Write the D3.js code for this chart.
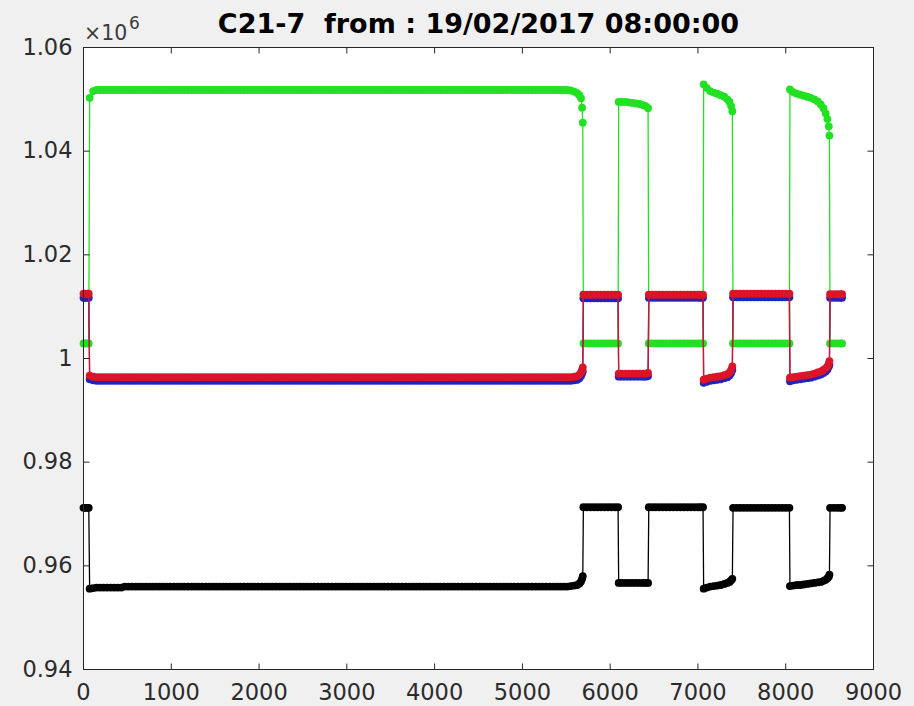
<!DOCTYPE html>
<html>
<head>
<meta charset="utf-8">
<style>
  body { margin: 0; background: #f0f0f0; }
  svg { display: block; }
  .axis text { font-family: "DejaVu Sans", sans-serif; font-size: 22.5px; fill: #2b2b2b; }
  .axis line { stroke: #262626; }
</style>
</head>
<body>
<script src="https://d3js.org/d3.v7.min.js"></script>
<script>
// sample index (x) shared by the four series
var sampleIdx = [
  0, 20, 40, 60,
  70, 110,
  150, 190, 230, 270, 310, 350, 390, 430, 470, 510, 550, 590, 630, 670, 710,
  750, 790, 830, 870, 910, 950, 990, 1030, 1070, 1110, 1150, 1190, 1230, 1270, 1310,
  1350, 1390, 1430, 1470, 1510, 1550, 1590, 1630, 1670, 1710, 1750, 1790, 1830, 1870, 1910,
  1950, 1990, 2030, 2070, 2110, 2150, 2190, 2230, 2270, 2310, 2350, 2390, 2430, 2470, 2510,
  2550, 2590, 2630, 2670, 2710, 2750, 2790, 2830, 2870, 2910, 2950, 2990, 3030, 3070, 3110,
  3150, 3190, 3230, 3270, 3310, 3350, 3390, 3430, 3470, 3510, 3550, 3590, 3630, 3670, 3710,
  3750, 3790, 3830, 3870, 3910, 3950, 3990, 4030, 4070, 4110, 4150, 4190, 4230, 4270, 4310,
  4350, 4390, 4430, 4470, 4510, 4550, 4590, 4630, 4670, 4710, 4750, 4790, 4830, 4870, 4910,
  4950, 4990, 5030, 5070, 5110, 5150, 5190, 5230, 5270, 5310, 5350, 5390, 5430, 5470, 5510,
  5550, 5590, 5625, 5650, 5668, 5680, 5688,
  5695, 5735, 5775, 5815, 5855, 5895, 5935, 5975, 6015, 6055, 6090,
  6097, 6135, 6175, 6215, 6255, 6295, 6335, 6375, 6405, 6432,
  6440, 6480, 6520, 6560, 6600, 6640, 6680, 6720, 6760, 6800, 6840, 6880, 6920, 6960, 7000, 7030, 7058,
  7065, 7100, 7140, 7180, 7220, 7260, 7300, 7335, 7360, 7378, 7392,
  7400, 7440, 7480, 7520, 7560, 7600, 7640, 7680, 7720, 7760, 7800, 7840, 7880, 7920, 7960, 8000, 8042,
  8048, 8085, 8125, 8165, 8205, 8245, 8285, 8325, 8365, 8400, 8430, 8455, 8475, 8490, 8498,
  8505, 8545, 8585, 8620, 8642
];

var greenVals = [
  1002900, 1002900, 1002900, 1002900,
  1050300, 1051600,
  1051800, 1051800, 1051800, 1051800, 1051800, 1051800, 1051800, 1051800, 1051800, 1051800, 1051800, 1051800, 1051800, 1051800, 1051800,
  1051800, 1051800, 1051800, 1051800, 1051800, 1051800, 1051800, 1051800, 1051800, 1051800, 1051800, 1051800, 1051800, 1051800, 1051800,
  1051800, 1051800, 1051800, 1051800, 1051800, 1051800, 1051800, 1051800, 1051800, 1051800, 1051800, 1051800, 1051800, 1051800, 1051800,
  1051800, 1051800, 1051800, 1051800, 1051800, 1051800, 1051800, 1051800, 1051800, 1051800, 1051800, 1051800, 1051800, 1051800, 1051800,
  1051800, 1051800, 1051800, 1051800, 1051800, 1051800, 1051800, 1051800, 1051800, 1051800, 1051800, 1051800, 1051800, 1051800, 1051800,
  1051800, 1051800, 1051800, 1051800, 1051800, 1051800, 1051800, 1051800, 1051800, 1051800, 1051800, 1051800, 1051800, 1051800, 1051800,
  1051800, 1051800, 1051800, 1051800, 1051800, 1051800, 1051800, 1051800, 1051800, 1051800, 1051800, 1051800, 1051800, 1051800, 1051800,
  1051800, 1051800, 1051800, 1051800, 1051800, 1051800, 1051800, 1051800, 1051800, 1051800, 1051800, 1051800, 1051800, 1051800, 1051800,
  1051800, 1051800, 1051800, 1051800, 1051800, 1051800, 1051800, 1051800, 1051800, 1051800, 1051800, 1051800, 1051800, 1051800, 1051800,
  1051700, 1051500, 1051200, 1050800, 1050200, 1048400, 1045500,
  1002900, 1002900, 1002900, 1002900, 1002900, 1002900, 1002900, 1002900, 1002900, 1002900, 1002900,
  1049500, 1049500, 1049500, 1049400, 1049300, 1049200, 1049100, 1048900, 1048700, 1048300,
  1002900, 1002900, 1002900, 1002900, 1002900, 1002900, 1002900, 1002900, 1002900, 1002900, 1002900, 1002900, 1002900, 1002900, 1002900, 1002900, 1002900,
  1052900, 1052200, 1051600, 1051300, 1051100, 1050800, 1050500, 1050000, 1049500, 1048700, 1047700,
  1002900, 1002900, 1002900, 1002900, 1002900, 1002900, 1002900, 1002900, 1002900, 1002900, 1002900, 1002900, 1002900, 1002900, 1002900, 1002900, 1002900,
  1051900, 1051400, 1051100, 1050900, 1050700, 1050500, 1050300, 1050000, 1049600, 1049000, 1048300, 1047300, 1046200, 1044800, 1043000,
  1002900, 1002900, 1002900, 1002900, 1002900
];

var redVals = [
  1012500, 1012500, 1012500, 1012500,
  996700, 996500,
  996400, 996400, 996400, 996400, 996400, 996400, 996400, 996400, 996400, 996400, 996400, 996400, 996400, 996400, 996400,
  996400, 996400, 996400, 996400, 996400, 996400, 996400, 996400, 996400, 996400, 996400, 996400, 996400, 996400, 996400,
  996400, 996400, 996400, 996400, 996400, 996400, 996400, 996400, 996400, 996400, 996400, 996400, 996400, 996400, 996400,
  996400, 996400, 996400, 996400, 996400, 996400, 996400, 996400, 996400, 996400, 996400, 996400, 996400, 996400, 996400,
  996400, 996400, 996400, 996400, 996400, 996400, 996400, 996400, 996400, 996400, 996400, 996400, 996400, 996400, 996400,
  996400, 996400, 996400, 996400, 996400, 996400, 996400, 996400, 996400, 996400, 996400, 996400, 996400, 996400, 996400,
  996400, 996400, 996400, 996400, 996400, 996400, 996400, 996400, 996400, 996400, 996400, 996400, 996400, 996400, 996400,
  996400, 996400, 996400, 996400, 996400, 996400, 996400, 996400, 996400, 996400, 996400, 996400, 996400, 996400, 996400,
  996400, 996400, 996400, 996400, 996400, 996400, 996400, 996400, 996400, 996400, 996400, 996400, 996400, 996400, 996400,
  996400, 996500, 996600, 996900, 997300, 997800, 998300,
  1012300, 1012300, 1012300, 1012300, 1012300, 1012300, 1012300, 1012300, 1012300, 1012300, 1012300,
  997100, 997100, 997100, 997100, 997100, 997100, 997100, 997100, 997100, 997200,
  1012300, 1012300, 1012300, 1012300, 1012300, 1012300, 1012300, 1012300, 1012300, 1012300, 1012300, 1012300, 1012300, 1012300, 1012300, 1012300, 1012300,
  995900, 996100, 996300, 996400, 996500, 996600, 996800, 997000, 997300, 997800, 998500,
  1012500, 1012500, 1012500, 1012500, 1012500, 1012500, 1012500, 1012500, 1012500, 1012500, 1012500, 1012500, 1012500, 1012500, 1012500, 1012500, 1012500,
  996300, 996400, 996500, 996600, 996700, 996800, 996900, 997100, 997300, 997500, 997800, 998100, 998500, 999000, 999500,
  1012400, 1012400, 1012400, 1012400, 1012400
];

var blueVals = [
  1011700, 1011700, 1011700, 1011700,
  996000, 995800,
  995700, 995700, 995700, 995700, 995700, 995700, 995700, 995700, 995700, 995700, 995700, 995700, 995700, 995700, 995700,
  995700, 995700, 995700, 995700, 995700, 995700, 995700, 995700, 995700, 995700, 995700, 995700, 995700, 995700, 995700,
  995700, 995700, 995700, 995700, 995700, 995700, 995700, 995700, 995700, 995700, 995700, 995700, 995700, 995700, 995700,
  995700, 995700, 995700, 995700, 995700, 995700, 995700, 995700, 995700, 995700, 995700, 995700, 995700, 995700, 995700,
  995700, 995700, 995700, 995700, 995700, 995700, 995700, 995700, 995700, 995700, 995700, 995700, 995700, 995700, 995700,
  995700, 995700, 995700, 995700, 995700, 995700, 995700, 995700, 995700, 995700, 995700, 995700, 995700, 995700, 995700,
  995700, 995700, 995700, 995700, 995700, 995700, 995700, 995700, 995700, 995700, 995700, 995700, 995700, 995700, 995700,
  995700, 995700, 995700, 995700, 995700, 995700, 995700, 995700, 995700, 995700, 995700, 995700, 995700, 995700, 995700,
  995700, 995700, 995700, 995700, 995700, 995700, 995700, 995700, 995700, 995700, 995700, 995700, 995700, 995700, 995700,
  995700, 995800, 995900, 996200, 996600, 997100, 997500,
  1011600, 1011600, 1011600, 1011600, 1011600, 1011600, 1011600, 1011600, 1011600, 1011600, 1011600,
  996500, 996500, 996500, 996500, 996500, 996500, 996500, 996500, 996500, 996600,
  1011700, 1011700, 1011700, 1011700, 1011700, 1011700, 1011700, 1011700, 1011700, 1011700, 1011700, 1011700, 1011700, 1011700, 1011700, 1011700, 1011700,
  995300, 995500, 995700, 995800, 995900, 996000, 996200, 996400, 996700, 997200, 997800,
  1011800, 1011800, 1011800, 1011800, 1011800, 1011800, 1011800, 1011800, 1011800, 1011800, 1011800, 1011800, 1011800, 1011800, 1011800, 1011800, 1011800,
  995600, 995800, 995900, 996000, 996100, 996200, 996300, 996500, 996700, 996900, 997200, 997500, 997900, 998400, 998800,
  1011700, 1011700, 1011700, 1011700, 1011700
];

var blackVals = [
  971200, 971200, 971200, 971200,
  955600, 955700,
  955800, 955800, 955800, 955800, 955800, 955800, 955800, 955800, 956000, 956000, 956000, 956000, 956000, 956000, 956000,
  956000, 956000, 956000, 956000, 956000, 956000, 956000, 956000, 956000, 956000, 956000, 956000, 956000, 956000, 956000,
  956000, 956000, 956000, 956000, 956000, 956000, 956000, 956000, 956000, 956000, 956000, 956000, 956000, 956000, 956000,
  956000, 956000, 956000, 956000, 956000, 956000, 956000, 956000, 956000, 956000, 956000, 956000, 956000, 956000, 956000,
  956000, 956000, 956000, 956000, 956000, 956000, 956000, 956000, 956000, 956000, 956000, 956000, 956000, 956000, 956000,
  956000, 956000, 956000, 956000, 956000, 956000, 956000, 956000, 956000, 956000, 956000, 956000, 956000, 956000, 956000,
  956000, 956000, 956000, 956000, 956000, 956000, 956000, 956000, 956000, 956000, 956000, 956000, 956000, 956000, 956000,
  956000, 956000, 956000, 956000, 956000, 956000, 956000, 956000, 956000, 956000, 956000, 956000, 956000, 956000, 956000,
  956000, 956000, 956000, 956000, 956000, 956000, 956000, 956000, 956000, 956000, 956000, 956000, 956000, 956000, 956000,
  956100, 956200, 956300, 956600, 957000, 957500, 958000,
  971300, 971300, 971300, 971300, 971300, 971300, 971300, 971300, 971300, 971300, 971300,
  956700, 956700, 956700, 956700, 956700, 956700, 956700, 956700, 956700, 956700,
  971300, 971300, 971300, 971300, 971300, 971300, 971300, 971300, 971300, 971300, 971300, 971300, 971300, 971300, 971300, 971300, 971300,
  955600, 955800, 956000, 956100, 956200, 956300, 956500, 956700, 956900, 957200, 957500,
  971200, 971200, 971200, 971200, 971200, 971200, 971200, 971200, 971200, 971200, 971200, 971200, 971200, 971200, 971200, 971200, 971200,
  956100, 956200, 956300, 956300, 956400, 956500, 956600, 956700, 956800, 956900, 957100, 957300, 957600, 957900, 958300,
  971200, 971200, 971200, 971200, 971200
];

var xTicks = [0, 1000, 2000, 3000, 4000, 5000, 6000, 7000, 8000, 9000];
var xTickLabels = ["0", "1000", "2000", "3000", "4000", "5000", "6000", "7000", "8000", "9000"];
var yTicks = [940000, 960000, 980000, 1000000, 1020000, 1040000, 1060000];
var yTickLabels = ["0.94", "0.96", "0.98", "1", "1.02", "1.04", "1.06"];

var titleText = "C21-7  from : 19/02/2017 08:00:00";

// drawing order: later ones on top
var series = [
  {name: "green", values: greenVals},
  {name: "black", values: blackVals},
  {name: "blue", values: blueVals},
  {name: "red", values: redVals}
];
var colors = {green: "#22e022", black: "#000000", blue: "#2323b8", red: "#dc1428"};

series.forEach(function(s) {
  if (s.values.length !== sampleIdx.length)
    throw new Error(s.name + " has " + s.values.length + " values, expected " + sampleIdx.length);
});

var margin = {top: 47.5, right: 40.5, bottom: 36.5, left: 83.5},
    width = 914 - margin.left - margin.right,
    height = 706 - margin.top - margin.bottom;

var x = d3.scaleLinear()
    .domain([0, 9000])
    .range([0, width]);

var y = d3.scaleLinear()
    .domain([940000, 1060000])
    .range([height, 0]);

var svgRoot = d3.select("body").append("svg")
    .attr("width", 914)
    .attr("height", 706);

svgRoot.append("rect")
    .attr("width", 914)
    .attr("height", 706)
    .attr("fill", "#f0f0f0");

var svg = svgRoot.append("g")
    .attr("transform", "translate(" + margin.left + "," + margin.top + ")");

svg.append("rect")
    .attr("width", width)
    .attr("height", height)
    .attr("fill", "#ffffff");

var line = d3.line()
    .x(function(d) { return x(d.t); })
    .y(function(d) { return y(d.v); });

series.forEach(function(s) {
  var pts = sampleIdx.map(function(t, i) { return {t: t, v: s.values[i]}; });
  var g = svg.append("g").attr("class", "series " + s.name);

  g.append("path")
      .datum(pts)
      .attr("fill", "none")
      .attr("stroke", colors[s.name])
      .attr("stroke-width", 1.3)
      .attr("d", line);

  g.selectAll("circle")
      .data(pts)
    .enter().append("circle")
      .attr("cx", function(d) { return x(d.t); })
      .attr("cy", function(d) { return y(d.v); })
      .attr("r", 3.9)
      .attr("fill", colors[s.name]);
});

// axes, ticks inside on all four sides
svg.append("g")
    .attr("class", "x axis")
    .attr("transform", "translate(0," + height + ")")
    .call(d3.axisBottom(x).tickValues(xTicks).offset(0)
      .tickSizeInner(-6).tickSizeOuter(0).tickPadding(15)
      .tickFormat(function(d, i) { return xTickLabels[i]; }))
    .call(function(g) { g.select(".domain").remove(); });

svg.append("g")
    .attr("class", "x axis top")
    .call(d3.axisTop(x).tickValues(xTicks).offset(0)
      .tickSizeInner(-6).tickSizeOuter(0).tickFormat(""))
    .call(function(g) { g.select(".domain").remove(); });

svg.append("g")
    .attr("class", "y axis")
    .call(d3.axisLeft(y).tickValues(yTicks).offset(0)
      .tickSizeInner(-6).tickSizeOuter(0).tickPadding(11)
      .tickFormat(function(d, i) { return yTickLabels[i]; }))
    .call(function(g) { g.select(".domain").remove(); });

svg.append("g")
    .attr("class", "y axis right")
    .attr("transform", "translate(" + width + ",0)")
    .call(d3.axisRight(y).tickValues(yTicks).offset(0)
      .tickSizeInner(-6).tickSizeOuter(0).tickFormat(""))
    .call(function(g) { g.select(".domain").remove(); });

svg.append("rect")
    .attr("width", width)
    .attr("height", height)
    .attr("fill", "none")
    .attr("stroke", "#262626")
    .attr("stroke-width", 1);

// exponent label
var expo = svgRoot.append("text")
    .attr("x", 84)
    .attr("y", 39.5)
    .attr("font-family", "DejaVu Sans, sans-serif")
    .attr("font-size", 20.5)
    .attr("fill", "#3a3a3a")
    .text("\u00d710");
expo.append("tspan")
    .attr("x", 129)
    .attr("y", 28.5)
    .attr("font-size", 17)
    .text("6");

svgRoot.append("text")
    .attr("x", margin.left + width / 2)
    .attr("y", 33.3)
    .attr("text-anchor", "middle")
    .attr("font-family", "DejaVu Sans, sans-serif")
    .attr("font-size", 27)
    .attr("font-weight", "bold")
    .attr("fill", "#000000")
    .style("white-space", "pre")
    .text(titleText);
</script>
</body>
</html>
